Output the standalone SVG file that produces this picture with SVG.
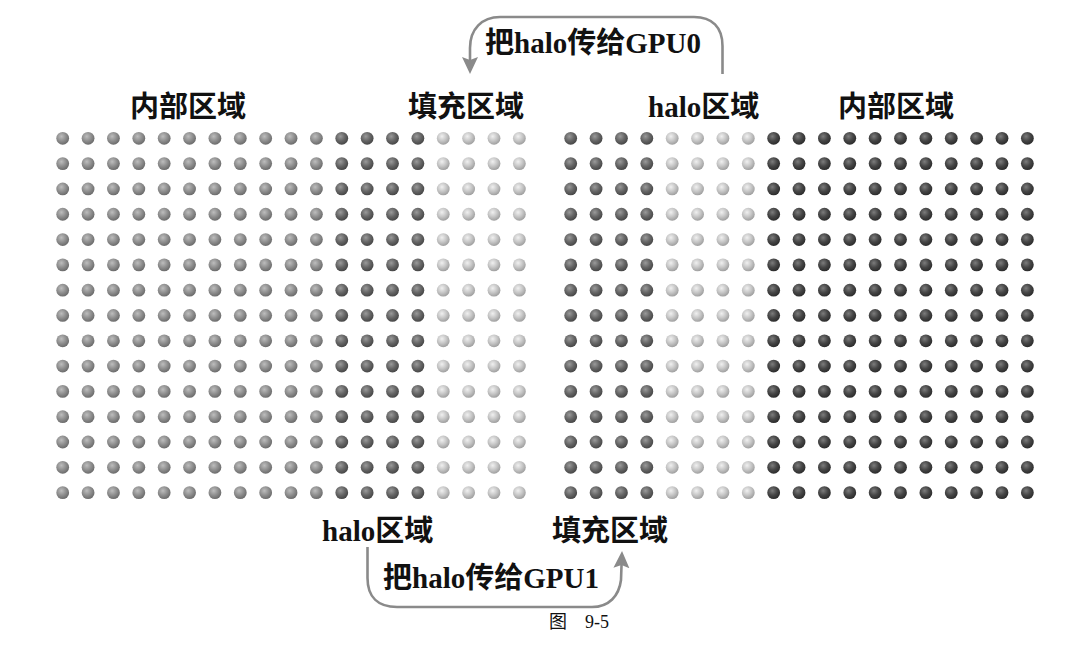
<svg xmlns="http://www.w3.org/2000/svg" xmlns:xlink="http://www.w3.org/1999/xlink" width="1084" height="669" viewBox="0 0 1084 669">
<style>
.lbl{font-family:"Liberation Serif","Noto Sans CJK SC",serif;font-size:29px;font-weight:bold;fill:#111}
.lat{font-weight:bold}
.cap{font-family:"Liberation Serif","Noto Sans CJK SC",serif;font-size:18px;fill:#111}
.arr{fill:none;stroke:#8a8a8a;stroke-width:2.6}
.m{fill:url(#gMed)}
.d{fill:url(#gDark)}
.l{fill:url(#gLight)}
.v{fill:url(#gVdark)}
</style>
<defs>
<radialGradient id="gMed" cx="0.4" cy="0.35" r="0.65">
<stop offset="0" stop-color="#bdbdbd"/><stop offset="0.55" stop-color="#8f8f8f"/><stop offset="1" stop-color="#6c6c6c"/>
</radialGradient>
<radialGradient id="gDark" cx="0.4" cy="0.35" r="0.65">
<stop offset="0" stop-color="#9a9a9a"/><stop offset="0.55" stop-color="#666666"/><stop offset="1" stop-color="#474747"/>
</radialGradient>
<radialGradient id="gLight" cx="0.4" cy="0.35" r="0.65">
<stop offset="0" stop-color="#f0f0f0"/><stop offset="0.55" stop-color="#c6c6c6"/><stop offset="1" stop-color="#a0a0a0"/>
</radialGradient>
<radialGradient id="gVdark" cx="0.4" cy="0.35" r="0.65">
<stop offset="0" stop-color="#7c7c7c"/><stop offset="0.55" stop-color="#464646"/><stop offset="1" stop-color="#2c2c2c"/>
</radialGradient>
<marker id="ah" markerUnits="userSpaceOnUse" markerWidth="18" markerHeight="18" viewBox="0 0 18 16" refX="5" refY="8" orient="auto">
<path d="M0,0 L17,8 L0,16 L3,8 z" fill="#8a8a8a"/>
</marker>
<g id="rowL">
<circle class="m" cx="62.7" cy="0" r="6.4"/><circle class="m" cx="88.07" cy="0" r="6.4"/><circle class="m" cx="113.44" cy="0" r="6.4"/><circle class="m" cx="138.81" cy="0" r="6.4"/><circle class="m" cx="164.18" cy="0" r="6.4"/><circle class="m" cx="189.55" cy="0" r="6.4"/><circle class="m" cx="214.92" cy="0" r="6.4"/><circle class="m" cx="240.29" cy="0" r="6.4"/><circle class="m" cx="265.66" cy="0" r="6.4"/><circle class="m" cx="291.03" cy="0" r="6.4"/><circle class="m" cx="316.4" cy="0" r="6.4"/>
<circle class="d" cx="341.77" cy="0" r="6.4"/><circle class="d" cx="367.14" cy="0" r="6.4"/><circle class="d" cx="392.51" cy="0" r="6.4"/><circle class="d" cx="417.88" cy="0" r="6.4"/>
<circle class="l" cx="443.25" cy="0" r="6.4"/><circle class="l" cx="468.62" cy="0" r="6.4"/><circle class="l" cx="493.99" cy="0" r="6.4"/><circle class="l" cx="519.36" cy="0" r="6.4"/>
</g>
<g id="rowR">
<circle class="d" cx="570.7" cy="0" r="6.4"/><circle class="d" cx="596.07" cy="0" r="6.4"/><circle class="d" cx="621.44" cy="0" r="6.4"/><circle class="d" cx="646.81" cy="0" r="6.4"/>
<circle class="l" cx="672.18" cy="0" r="6.4"/><circle class="l" cx="697.55" cy="0" r="6.4"/><circle class="l" cx="722.92" cy="0" r="6.4"/><circle class="l" cx="748.29" cy="0" r="6.4"/>
<circle class="v" cx="773.66" cy="0" r="6.4"/><circle class="v" cx="799.03" cy="0" r="6.4"/><circle class="v" cx="824.4" cy="0" r="6.4"/><circle class="v" cx="849.77" cy="0" r="6.4"/><circle class="v" cx="875.14" cy="0" r="6.4"/><circle class="v" cx="900.51" cy="0" r="6.4"/><circle class="v" cx="925.88" cy="0" r="6.4"/><circle class="v" cx="951.25" cy="0" r="6.4"/><circle class="v" cx="976.62" cy="0" r="6.4"/><circle class="v" cx="1001.99" cy="0" r="6.4"/><circle class="v" cx="1027.36" cy="0" r="6.4"/>
</g>
</defs>
<rect width="1084" height="669" fill="#ffffff"/>

<g id="gpu0-grid">
<use xlink:href="#rowL" href="#rowL" y="138.3"/><use xlink:href="#rowL" href="#rowL" y="163.61"/><use xlink:href="#rowL" href="#rowL" y="188.92"/><use xlink:href="#rowL" href="#rowL" y="214.23"/><use xlink:href="#rowL" href="#rowL" y="239.54"/><use xlink:href="#rowL" href="#rowL" y="264.85"/><use xlink:href="#rowL" href="#rowL" y="290.16"/><use xlink:href="#rowL" href="#rowL" y="315.47"/><use xlink:href="#rowL" href="#rowL" y="340.78"/><use xlink:href="#rowL" href="#rowL" y="366.09"/><use xlink:href="#rowL" href="#rowL" y="391.4"/><use xlink:href="#rowL" href="#rowL" y="416.71"/><use xlink:href="#rowL" href="#rowL" y="442.02"/><use xlink:href="#rowL" href="#rowL" y="467.33"/><use xlink:href="#rowL" href="#rowL" y="492.64"/>
</g>
<g id="gpu1-grid">
<use xlink:href="#rowR" href="#rowR" y="138.3"/><use xlink:href="#rowR" href="#rowR" y="163.61"/><use xlink:href="#rowR" href="#rowR" y="188.92"/><use xlink:href="#rowR" href="#rowR" y="214.23"/><use xlink:href="#rowR" href="#rowR" y="239.54"/><use xlink:href="#rowR" href="#rowR" y="264.85"/><use xlink:href="#rowR" href="#rowR" y="290.16"/><use xlink:href="#rowR" href="#rowR" y="315.47"/><use xlink:href="#rowR" href="#rowR" y="340.78"/><use xlink:href="#rowR" href="#rowR" y="366.09"/><use xlink:href="#rowR" href="#rowR" y="391.4"/><use xlink:href="#rowR" href="#rowR" y="416.71"/><use xlink:href="#rowR" href="#rowR" y="442.02"/><use xlink:href="#rowR" href="#rowR" y="467.33"/><use xlink:href="#rowR" href="#rowR" y="492.64"/>
</g>

<g id="labels-top">
<text class="lbl" x="130" y="117">内部区域</text>
<text class="lbl" x="408" y="117">填充区域</text>
<text class="lbl" x="648" y="117"><tspan class="lat">halo</tspan>区域</text>
<text class="lbl" x="838" y="117">内部区域</text>
</g>
<g id="labels-bottom">
<text class="lbl" x="322" y="541"><tspan class="lat">halo</tspan>区域</text>
<text class="lbl" x="552" y="541">填充区域</text>
</g>

<g id="connectors">
<path class="arr" d="M722.5,74 L722.5,46 C722.5,27 712,17 694,17 L500,17 C482,17 470,29 470,48 L470,62" marker-end="url(#ah)"/>
<path class="arr" d="M367.5,547 L367.5,578 C367.5,597 378,607 397,607 L592,607 C609,607 619,596 621,580 L621.6,563" marker-end="url(#ah)"/>
</g>
<g id="connector-labels">
<text class="lbl" x="485" y="53">把<tspan class="lat">halo</tspan>传给<tspan class="lat">GPU0</tspan></text>
<text class="lbl" x="383" y="588">把<tspan class="lat">halo</tspan>传给<tspan class="lat">GPU1</tspan></text>
</g>

<text class="cap" x="549" y="628" font-size="19">图</text>
<text class="cap" x="585" y="628" font-size="19">9-5</text>
</svg>
